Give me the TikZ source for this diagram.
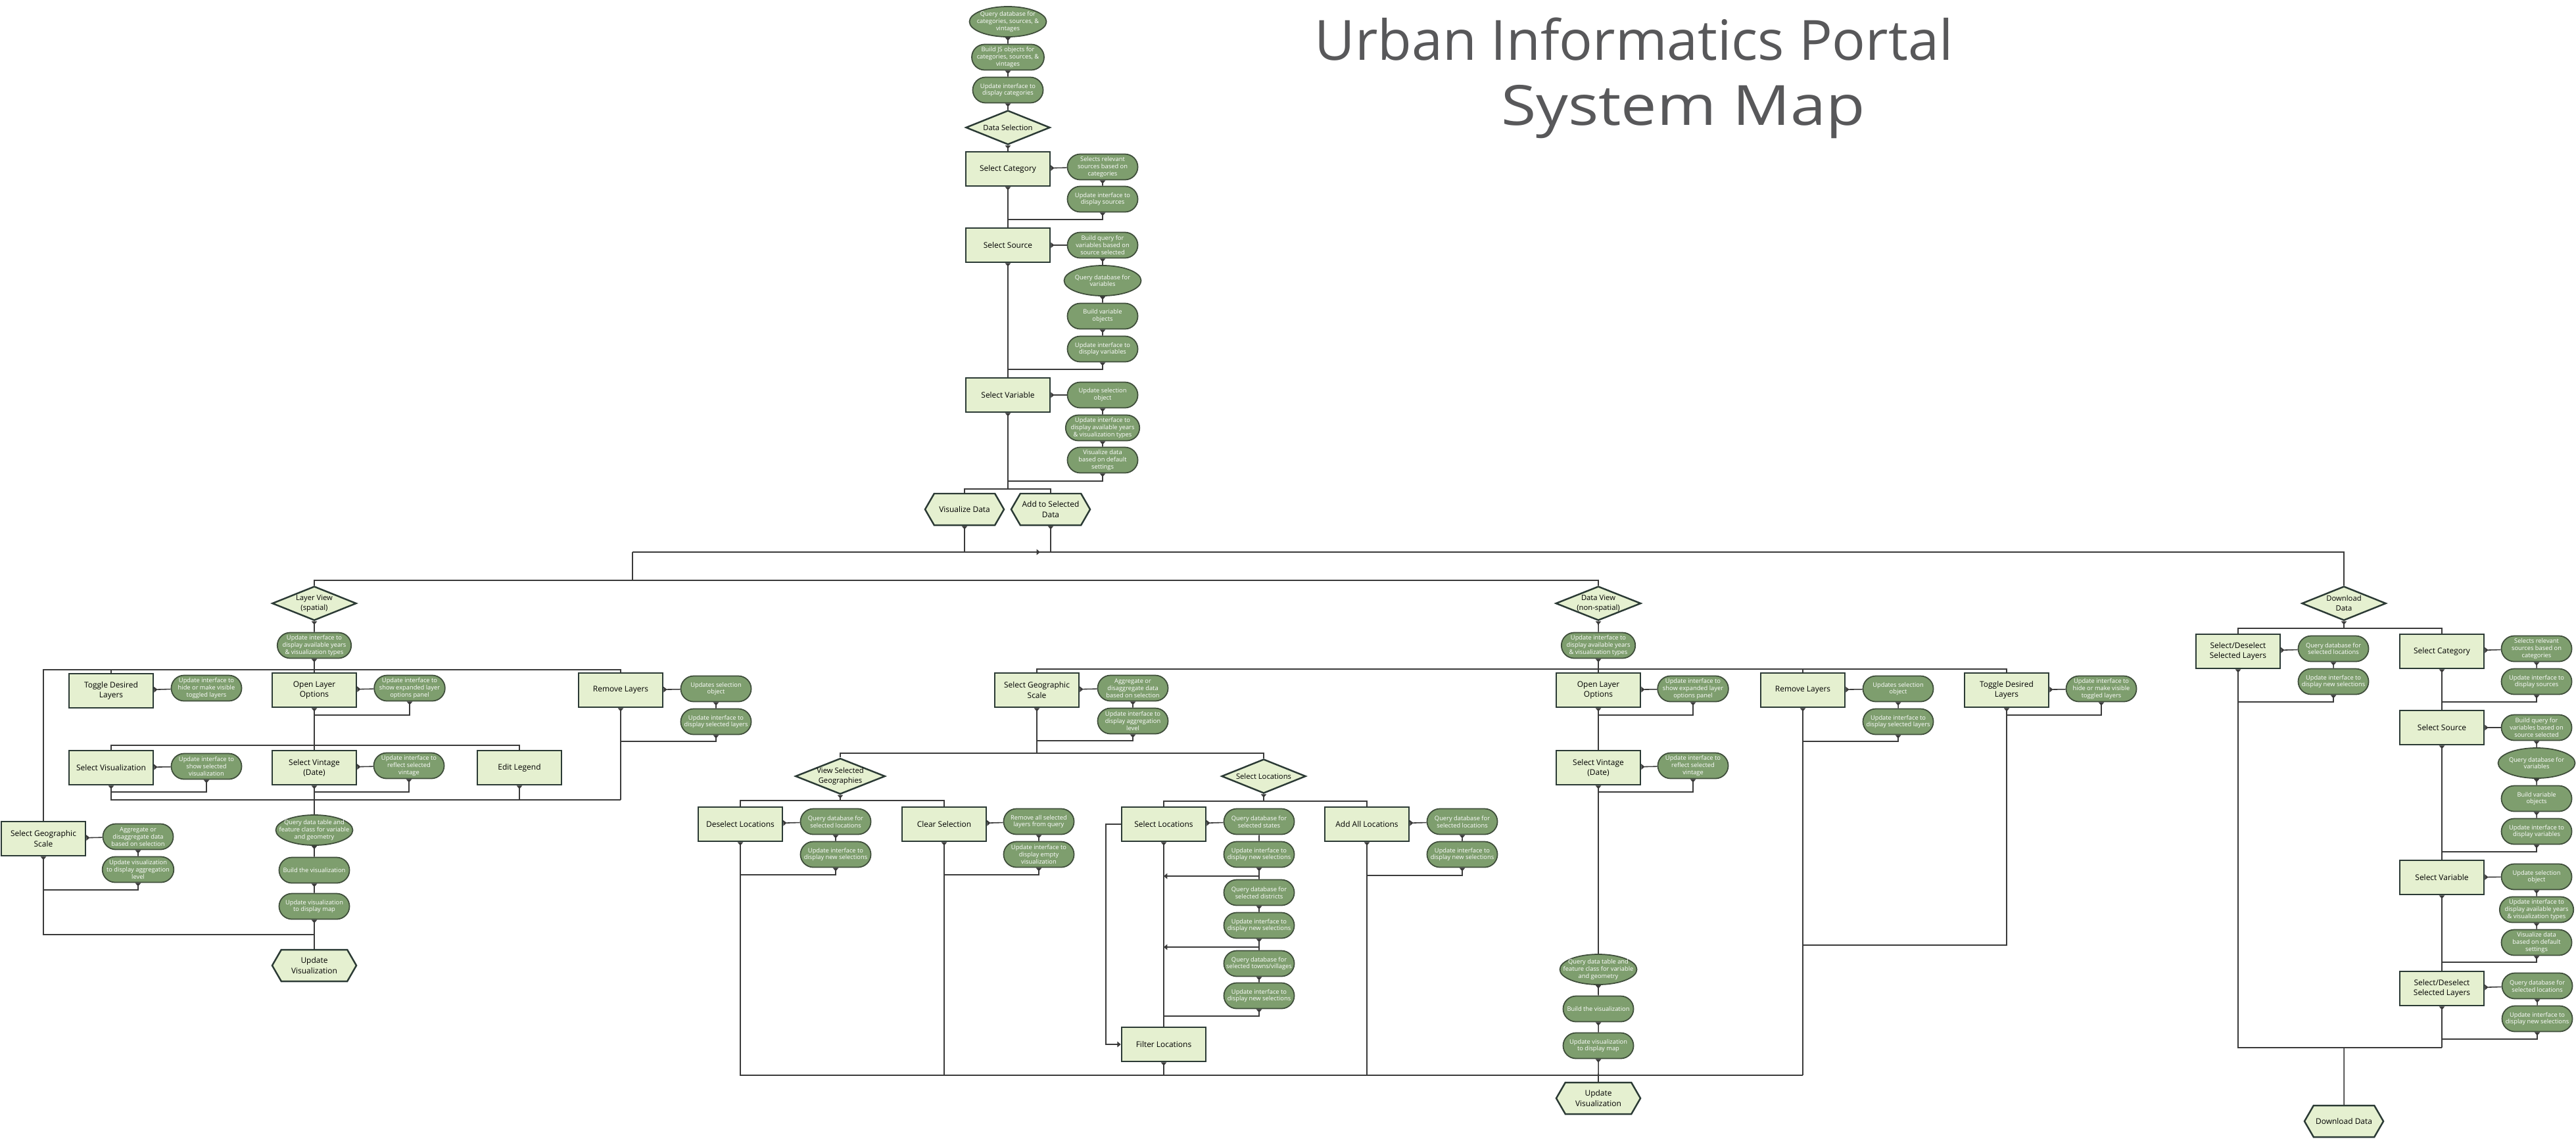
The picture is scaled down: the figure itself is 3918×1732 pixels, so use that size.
\documentclass[tikz,border=0pt]{standalone}
\usepackage{fontspec}
\setmainfont{Open Sans}
\usepackage{tikz}
\usetikzlibrary{shapes, arrows.meta, positioning}
\definecolor{box_fill}{HTML}{E5F0D0}
\definecolor{box_line}{HTML}{2B3A35}
\definecolor{task_fill}{HTML}{7E9E6E}
\definecolor{task_line}{HTML}{3E4D3A}
\definecolor{wire}{HTML}{3A3A3A}
\definecolor{title_gray}{HTML}{58585A}
\tikzset{
    block/.style={rectangle, draw=box_line, line width=0.7pt, fill=box_fill, align=center, minimum width=1.28cm, minimum height=0.52cm, inner sep=0pt, font=\fontsize{3.4}{4.3}\selectfont},
    choice/.style={diamond, draw=box_line, line width=0.7pt, fill=box_fill, align=center, aspect=2.5, minimum width=1.28cm, minimum height=0.52cm, inner sep=0pt, font=\fontsize{3.2}{4.2}\selectfont},
    terminal/.style={signal, signal to=west and east, signal pointer angle=120, draw=box_line, line width=0.7pt, fill=box_fill, align=center, minimum width=1.2cm, minimum height=0.48cm, inner sep=0pt, font=\fontsize{3.4}{4.3}\selectfont},
    task/.style={rounded rectangle, draw=task_line, line width=0.5pt, fill=task_fill, text=white, align=center, minimum width=1.07cm, minimum height=0.39cm, inner sep=0pt, font=\fontsize{2.65}{3.1}\selectfont},
    query/.style={task, ellipse, inner xsep=-0.14cm, inner ysep=-0.05cm, minimum width=1.17cm, minimum height=0.46cm},
    line/.style={draw=wire, line width=0.45pt},
    arrow/.style={line, {Triangle[reversed, length=1.5pt, width=2.4pt]}-},
    arrowin/.style={line, -{Triangle[length=1.5pt, width=2.4pt]}}
}

\begin{document}
\begin{tikzpicture}[x=0.01cm, y=-0.01cm]
        \useasboundingbox (0,0) rectangle (3918,1732);

        \node (title) [text=title_gray, font=\fontsize{24}{32}\selectfont] at (2485,60) {Urban Informatics Portal};
        \node (title2) [text=title_gray, font=\fontsize{24}{32}\selectfont] at (2560,170) {\scalebox{1.15}[1]{System Map}};

        % Data selection column
        \node (qdb) [query] at (1533,33) {Query database for\\categories, sources, \&\\vintages};
        \node (bjs) [task] at (1533,87) {Build JS objects for\\categories, sources, \&\\vintages};
        \node (uic) [task] at (1533,137) {Update interface to\\display categories};
        \node (dsel) [choice] at (1533,194) {Data Selection};

        \node (scat) [block] at (1533,257) {Select Category};
        \node (scatA) [task] at (1677,254) {Selects relevant\\sources based on\\categories};
        \node (scatB) [task] at (1677,303) {Update interface to\\display sources};

        \node (ssrc) [block] at (1533,373) {Select Source};
        \node (ssrcA) [task] at (1677,373) {Build query for\\variables based on\\source selected};
        \node (ssrcB) [query] at (1677,427) {Query database for\\variables};
        \node (ssrcC) [task] at (1677,481) {Build variable\\objects};
        \node (ssrcD) [task] at (1677,531) {Update interface to\\display variables};

        \node (svar) [block] at (1533,601) {Select Variable};
        \node (svarA) [task] at (1677,601) {Update selection\\object};
        \node (svarB) [task] at (1677,651) {Update interface to\\display available years\\\& visualization types};
        \node (svarC) [task] at (1677,700) {Visualize data\\based on default\\settings};

        \node (vis) [terminal] at (1467,775) {Visualize Data};
        \node (add) [terminal] at (1598,775) {Add to Selected\\Data};

        % Layer view (spatial)
        \node (lview) [choice] at (478,918) {Layer View\\(spatial)};
        \node (lviewA) [task] at (478,982) {Update interface to\\display available years\\\& visualization types};
        \node (tog) [block] at (169,1051) {Toggle Desired\\Layers};
        \node (togA) [task] at (314,1047) {Update interface to\\hide or make visible\\toggled layers};
        \node (lopt) [block] at (478,1050) {Open Layer\\Options};
        \node (loptA) [task] at (623,1047) {Update interface to\\show expanded layer\\options panel};
        \node (lrem) [block] at (944,1050) {Remove Layers};
        \node (lremA) [task] at (1089,1048) {Updates selection\\object};
        \node (lremB) [task] at (1089,1098) {Update interface to\\display selected layers};
        \node (lvis) [block] at (169,1168) {Select Visualization};
        \node (lvisA) [task] at (314,1166) {Update interface to\\show selected\\visualization};
        \node (lvin) [block] at (478,1168) {Select Vintage\\(Date)};
        \node (lvinA) [task] at (622,1165) {Update interface to\\reflect selected\\vintage};
        \node (leg) [block] at (790,1168) {Edit Legend};
        \node (lgeo) [block] at (66,1276) {Select Geographic\\Scale};
        \node (lgeoA) [task] at (210,1273) {Aggregate or\\disaggregate data\\based on selection};
        \node (lgeoB) [task] at (210,1323) {Update visualization\\to display aggregation\\level};
        \node (lq) [query] at (478,1263) {Query data table and\\feature class for variable\\and geometry};
        \node (lbuild) [task] at (478,1324) {Build the visualization};
        \node (lupd) [task] at (478,1379) {Update visualization\\to display map};
        \node (lhex) [terminal, minimum width=1.28cm] at (478,1469) {Update\\Visualization};

        % Data view (non-spatial)
        \node (dview) [choice] at (2431,918) {Data View\\(non-spatial)};
        \node (dviewA) [task] at (2431,982) {Update interface to\\display available years\\\& visualization types};
        \node (dgeo) [block] at (1577,1050) {Select Geographic\\Scale};
        \node (dgeoA) [task] at (1723,1047) {Aggregate or\\disaggregate data\\based on selection};
        \node (dgeoB) [task] at (1723,1097) {Update interface to\\display aggregation\\level};
        \node (vsg) [choice] at (1278,1181) {View Selected\\Geographies};
        \node (desel) [block] at (1126,1254) {Deselect Locations};
        \node (deselA) [task] at (1271,1250) {Query database for\\selected locations};
        \node (deselB) [task] at (1271,1300) {Update interface to\\display new selections};
        \node (clr) [block] at (1436,1254) {Clear Selection};
        \node (clrA) [task] at (1580,1250) {Remove all selected\\layers from query};
        \node (clrB) [task] at (1580,1300) {Update interface to\\display empty\\visualization};
        \node (sld) [choice] at (1922,1181) {Select Locations};
        \node (sloc) [block] at (1770,1254) {Select Locations};
        \node (slocA) [task] at (1915,1250) {Query database for\\selected states};
        \node (slocB) [task] at (1915,1300) {Update interface to\\display new selections};
        \node (slocC) [task] at (1915,1358) {Query database for\\selected districts};
        \node (slocD) [task] at (1915,1408) {Update interface to\\display new selections};
        \node (slocE) [task] at (1915,1466) {Query database for\\selected towns/villages};
        \node (slocF) [task] at (1915,1515) {Update interface to\\display new selections};
        \node (filt) [block] at (1770,1589) {Filter Locations};
        \node (addall) [block] at (2079,1254) {Add All Locations};
        \node (addallA) [task] at (2224,1250) {Query database for\\selected locations};
        \node (addallB) [task] at (2224,1300) {Update interface to\\display new selections};
        \node (dopt) [block] at (2431,1050) {Open Layer\\Options};
        \node (doptA) [task] at (2575,1048) {Update interface to\\show expanded layer\\options panel};
        \node (dvin) [block] at (2431,1168) {Select Vintage\\(Date)};
        \node (dvinA) [task] at (2575,1165) {Update interface to\\reflect selected\\vintage};
        \node (dq) [query] at (2431,1475) {Query data table and\\feature class for variable\\and geometry};
        \node (dbuild) [task] at (2431,1535) {Build the visualization};
        \node (dupd) [task] at (2431,1591) {Update visualization\\to display map};
        \node (dhex) [terminal, minimum width=1.28cm] at (2431,1671) {Update\\Visualization};
        \node (drem) [block] at (2742,1050) {Remove Layers};
        \node (dremA) [task] at (2887,1048) {Updates selection\\object};
        \node (dremB) [task] at (2887,1098) {Update interface to\\display selected layers};
        \node (dtog) [block] at (3052,1050) {Toggle Desired\\Layers};
        \node (dtogA) [task] at (3196,1048) {Update interface to\\hide or make visible\\toggled layers};

        % Download data
        \node (dl) [choice] at (3565,918) {Download\\Data};
        \node (dsl) [block] at (3404,991) {Select/Deselect\\Selected Layers};
        \node (dslA) [task] at (3549,987) {Query database for\\selected locations};
        \node (dslB) [task] at (3549,1037) {Update interface to\\display new selections};
        \node (rcat) [block] at (3714,991) {Select Category};
        \node (rcatA) [task] at (3858,987) {Selects relevant\\sources based on\\categories};
        \node (rcatB) [task] at (3858,1037) {Update interface to\\display sources};
        \node (rsrc) [block] at (3714,1107) {Select Source};
        \node (rsrcA) [task] at (3858,1107) {Build query for\\variables based on\\source selected};
        \node (rsrcB) [query] at (3858,1161) {Query database for\\variables};
        \node (rsrcC) [task] at (3858,1215) {Build variable\\objects};
        \node (rsrcD) [task] at (3858,1265) {Update interface to\\display variables};
        \node (rvar) [block] at (3714,1335) {Select Variable};
        \node (rvarA) [task] at (3858,1334) {Update selection\\object};
        \node (rvarB) [task] at (3858,1384) {Update interface to\\display available years\\\& visualization types};
        \node (rvarC) [task] at (3858,1434) {Visualize data\\based on default\\settings};
        \node (rsl) [block] at (3714,1504) {Select/Deselect\\Selected Layers};
        \node (rslA) [task] at (3859,1500) {Query database for\\selected locations};
        \node (rslB) [task] at (3859,1550) {Update interface to\\display new selections};
        \node (dlhex) [terminal] at (3565,1706) {Download Data};

        % Connect data selection column
        \draw[arrow] (qdb) -- (bjs);
        \draw[arrow] (bjs) -- (uic);
        \draw[arrow] (uic) -- (dsel);
        \draw[arrow] (dsel) -- (scat);
        \draw[arrow] (scat) -- (scatA);
        \draw[arrow] (scatA) -- (scatB);
        \draw[arrow] (scatB) |- (scat |- 0,334);
        \draw[arrow] (scat) -- (ssrc);
        \draw[arrow] (ssrc) -- (ssrcA);
        \draw[arrow] (ssrcA) -- (ssrcB);
        \draw[arrow] (ssrcB) -- (ssrcC);
        \draw[arrow] (ssrcC) -- (ssrcD);
        \draw[arrow] (ssrcD) |- (ssrc |- 0,562);
        \draw[arrow] (ssrc) -- (svar);
        \draw[arrow] (svar) -- (svarA);
        \draw[arrow] (svarA) -- (svarB);
        \draw[arrow] (svarB) -- (svarC);
        \draw[arrow] (svarC) |- (svar |- 0,732);
        \draw[arrow] (svar) -- (svar |- 0,744);
        \draw[line] (vis) |- (svar |- 0,744) -| (add);

        % Main buses
        \coordinate (busA) at (962,840);
        \coordinate (busB) at (962,883);
        \coordinate (busMark) at (1582,840);
        \draw[arrow] (vis) -- (vis |- busA);
        \draw[arrow] (add) -- (add |- busA);
        \draw[line] (busA) -- (dl |- busA) -- (dl);
        \draw[arrowin] (busA) -- (busMark);
        \draw[line] (busA) -- (busB);
        \draw[line] (lview) |- (busB) -| (dview);

        % Layer view flow
        \coordinate (lbus) at (66,1019);
        \draw[arrow] (lview) -- (lviewA);
        \draw[arrow] (lviewA) -- (lopt);
        \draw[line] (lgeo) -- (lbus) -- (lrem |- lbus) -- (lrem);
        \draw[line] (tog |- lbus) -- (tog);
        \draw[arrow] (tog) -- (togA);
        \draw[arrow] (lopt) -- (loptA);
        \draw[arrow] (loptA) |- (lopt |- 0,1088);
        \draw[arrow] (lrem) -- (lremA);
        \draw[arrow] (lremA) -- (lremB);
        \draw[arrow] (lremB) |- (lrem |- 0,1128);
        \draw[arrow] (lopt) -- (lvin);
        \draw[line] (lvis) |- (lvin |- 0,1134) -| (leg);
        \draw[arrow] (lvis) -- (lvisA);
        \draw[arrow] (lvisA) |- (lvis |- 0,1205);
        \draw[arrow] (lvin) -- (lvinA);
        \draw[arrow] (lvinA) |- (lvin |- 0,1205);
        \draw[arrow] (lvis) |- (lrem |- 0,1217);
        \draw[arrow] (leg) -- (leg |- 0,1217);
        \draw[arrow] (lrem) -- (lrem |- 0,1217);
        \draw[arrow] (lvin) -- (lq);
        \draw[arrow] (lq) -- (lbuild);
        \draw[arrow] (lbuild) -- (lupd);
        \draw[arrow] (lupd) -- (lhex);
        \draw[arrow] (lgeo) -- (lgeoA);
        \draw[arrow] (lgeoA) -- (lgeoB);
        \draw[arrow] (lgeoB) |- (lgeo |- 0,1354);
        \draw[arrow] (lgeo) |- (lupd |- 0,1422);

        % Data view flow
        \draw[arrow] (dview) -- (dviewA);
        \draw[arrow] (dviewA) -- (dopt);
        \draw[line] (dgeo) |- (dtog |- 0,1018) -- (dtog);
        \draw[line] (drem |- 0,1018) -- (drem);
        \draw[arrow] (dgeo) -- (dgeoA);
        \draw[arrow] (dgeoA) -- (dgeoB);
        \draw[arrow] (dgeoB) |- (dgeo |- 0,1127);
        \draw[arrow] (dgeo) -- (dgeo |- 0,1146);
        \draw[line] (vsg) |- (dgeo |- 0,1146) -| (sld);
        \draw[arrow] (vsg) -- (vsg |- 0,1218);
        \draw[line] (desel) |- (vsg |- 0,1218) -| (clr);
        \draw[arrow] (desel) -- (deselA);
        \draw[arrow] (deselA) -- (deselB);
        \draw[arrow] (deselB) |- (desel |- 0,1331);
        \draw[arrow] (clr) -- (clrA);
        \draw[arrow] (clrA) -- (clrB);
        \draw[arrow] (clrB) |- (clr |- 0,1331);
        \draw[arrow] (sld) -- (sld |- 0,1219);
        \draw[line] (sloc) |- (sld |- 0,1219) -| (addall);
        \draw[arrow] (sloc) -- (slocA);
        \draw[line] (slocA) -- (slocB);
        \draw[arrow] (slocB) -- (slocC);
        \draw[arrowin] (slocB |- 0,1333) -- (sloc |- 0,1333);
        \draw[arrow] (slocC) -- (slocD);
        \draw[arrow] (slocD) -- (slocE);
        \draw[arrowin] (slocD |- 0,1441) -- (sloc |- 0,1441);
        \draw[arrow] (slocE) -- (slocF);
        \draw[arrow] (slocF) |- (sloc |- 0,1546);
        \draw[arrow] (sloc) -- (filt);
        \draw[arrowin] (sloc.west) -- ++(-23,0) |- (filt);
        \draw[arrow] (addall) -- (addallA);
        \draw[arrow] (addallA) -- (addallB);
        \draw[arrow] (addallB) |- (addall |- 0,1332);
        \draw[arrow] (desel) |- (drem |- 0,1636);
        \draw[arrow] (clr) -- (clr |- 0,1636);
        \draw[arrow] (filt) -- (filt |- 0,1636);
        \draw[arrow] (addall) -- (addall |- 0,1636);
        \draw[arrow] (drem) -- (drem |- 0,1636);
        \draw[arrow] (dopt) -- (doptA);
        \draw[arrow] (doptA) |- (dopt |- 0,1088);
        \draw[arrow] (dopt) -- (dvin);
        \draw[arrow] (dvin) -- (dvinA);
        \draw[arrow] (dvinA) |- (dvin |- 0,1205);
        \draw[arrow] (dvin) -- (dq);
        \draw[arrow] (dq) -- (dbuild);
        \draw[arrow] (dbuild) -- (dupd);
        \draw[arrow] (dupd) -- (dhex);
        \draw[arrow] (drem) -- (dremA);
        \draw[arrow] (dremA) -- (dremB);
        \draw[arrow] (dremB) |- (drem |- 0,1128);
        \draw[arrow] (dtog) -- (dtogA);
        \draw[arrow] (dtogA) |- (dtog |- 0,1088);
        \draw[arrow] (dtog) |- (drem |- 0,1438);

        % Download flow
        \draw[arrow] (dl) -- (dl |- 0,956);
        \draw[line] (dsl) |- (dl |- 0,956) -| (rcat);
        \draw[arrow] (dsl) -- (dslA);
        \draw[arrow] (dslA) -- (dslB);
        \draw[arrow] (dslB) |- (dsl |- 0,1068);
        \draw[arrow] (rcat) -- (rcatA);
        \draw[arrow] (rcatA) -- (rcatB);
        \draw[arrow] (rcatB) |- (rcat |- 0,1068);
        \draw[arrow] (rcat) -- (rsrc);
        \draw[arrow] (rsrc) -- (rsrcA);
        \draw[arrow] (rsrcA) -- (rsrcB);
        \draw[arrow] (rsrcB) -- (rsrcC);
        \draw[arrow] (rsrcC) -- (rsrcD);
        \draw[arrow] (rsrcD) |- (rsrc |- 0,1296);
        \draw[arrow] (rsrc) -- (rvar);
        \draw[arrow] (rvar) -- (rvarA);
        \draw[arrow] (rvarA) -- (rvarB);
        \draw[arrow] (rvarB) -- (rvarC);
        \draw[arrow] (rvarC) |- (rvar |- 0,1464);
        \draw[arrow] (rvar) -- (rsl);
        \draw[arrow] (rsl) -- (rslA);
        \draw[arrow] (rslA) -- (rslB);
        \draw[arrow] (rslB) |- (rsl |- 0,1581);
        \draw[arrow] (dsl) |- (rsl |- 0,1594);
        \draw[arrow] (rsl) -- (rsl |- 0,1594);
        \draw[line] (dlhex |- 0,1594) -- (dlhex);

    \end{tikzpicture}
\end{document}
